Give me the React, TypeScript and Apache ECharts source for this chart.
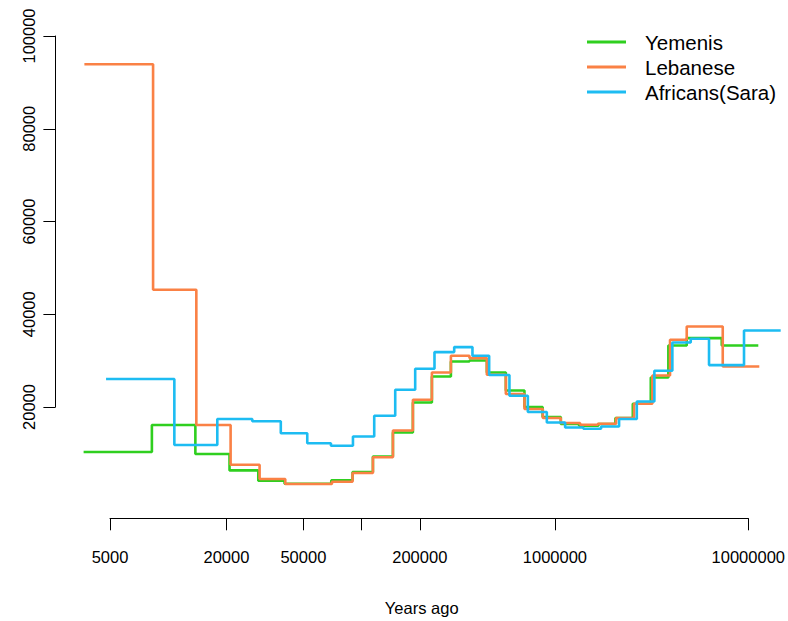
import React, { useEffect, useRef } from "react";
import * as echarts from "echarts";

// Step points (years ago, effective population size)
const yemenisYears = [3640, 8210, 13780, 20700, 29160, 39890, 69550, 89640, 114260, 145000, 183940, 230680, 289270, 360900, 444000, 556700, 694800, 862800, 1071500, 1332000, 1676000, 2053000, 2526000, 3129000, 3858000, 4802000, 7287000, 11265000];
const yemenisNe = [10232, 16054, 9822, 6264, 4043, 3396, 4108, 5919, 9283, 14458, 20927, 26534, 29768, 29984, 27396, 23515, 19935, 17779, 16270, 15903, 16270, 17563, 20647, 26318, 33218, 34814, 33218, 33218];

const lebaneseYears = [3674, 8327, 13940, 20970, 29620, 40220, 70130, 89640, 114260, 145000, 183940, 230680, 289270, 360900, 444000, 556700, 694800, 864900, 1071500, 1348000, 1664000, 2070000, 2564000, 3189000, 3936000, 4802000, 7375000, 11400000];
const lebaneseNe = [93898, 45229, 16054, 7493, 4410, 3332, 3827, 5704, 9111, 14890, 21509, 27396, 30997, 30501, 26900, 22739, 19504, 17563, 16485, 16119, 16334, 17563, 20647, 26749, 34447, 37316, 28690, 28690];

const saraYears = [4756, 10728, 17895, 27150, 38130, 52260, 69290, 90070, 116040, 149030, 189050, 237910, 300900, 374000, 456300, 581000, 723500, 907000, 1128000, 1402000, 1731000, 2145000, 2649000, 3266000, 4046000, 5037000, 6263000, 9502000, 14710000];
const saraNe = [25973, 11741, 17370, 16873, 14286, 12129, 11590, 13596, 18059, 23666, 28194, 31795, 32873, 30997, 26836, 22372, 18857, 16615, 15536, 15256, 15752, 17348, 21143, 27763, 33865, 34663, 28992, 36453, 36453];

const seriesNames = ["Yemenis", "Lebanese", "Africans(Sara)"];
const seriesColors = ["#2fcf1f", "#fa8145", "#1dbcf2"];

const xTickYears = [5000, 20000, 50000, 100000, 200000, 1000000, 10000000];
const xLabelYears = [5000, 20000, 50000, 200000, 1000000, 10000000];
const yTicks = [20000, 40000, 60000, 80000, 100000];

const FONT = "'Liberation Sans', Arial, Helvetica, sans-serif";

export default function App() {
  const ref = useRef<HTMLDivElement>(null);
  useEffect(() => {
    const chart = echarts.init(ref.current!, undefined, { renderer: "svg" });
    const pair = (xs: number[], ys: number[]) => xs.map((x, i) => [x, ys[i]]);
    const axisLineStyle = { color: "#000", width: 1 };
    const mk = (i: number, xs: number[], ys: number[]) => ({
      type: "line",
      name: seriesNames[i],
      xAxisIndex: 0,
      yAxisIndex: 0,
      data: pair(xs, ys),
      step: "end",
      symbol: "none",
      showSymbol: false,
      clip: false,
      lineStyle: { color: seriesColors[i], width: 2.6 },
      itemStyle: { color: seriesColors[i] },
      z: 2 + i,
    });
    chart.setOption({
      animation: false,
      backgroundColor: "#ffffff",
      color: seriesColors,
      textStyle: { fontFamily: FONT },
      grid: [
        { left: 55.4, right: 0, top: 17.4, bottom: 102.7 },
        { left: 110, right: 39.7, top: 480, bottom: 102.7 },
        { left: 55.4, right: 500, top: 36, bottom: 214 },
      ],
      xAxis: [
        {
          type: "log",
          gridIndex: 0,
          logBase: 10,
          min: 2601,
          max: 16046000,
          axisLine: { show: false },
          axisTick: { show: false },
          axisLabel: { show: false },
          splitLine: { show: false },
          minorTick: { show: false },
          name: "Years ago",
          nameLocation: "middle",
          nameGap: 81,
          nameTextStyle: { fontSize: 16.5, color: "#000", fontFamily: FONT },
        },
        {
          type: "value",
          gridIndex: 1,
          min: Math.log10(5000),
          max: 7,
          axisLine: { show: true, lineStyle: axisLineStyle },
          axisTick: {
            show: true,
            length: 12,
            customValues: xTickYears.map((v) => Math.log10(v)),
            lineStyle: axisLineStyle,
          },
          axisLabel: {
            show: true,
            customValues: xLabelYears.map((v) => Math.log10(v)),
            formatter: (v: number) => String(Math.round(Math.pow(10, v))),
            margin: 30,
            fontSize: 16.5,
            color: "#000",
            fontFamily: FONT,
          },
          splitLine: { show: false },
        },
        { type: "value", gridIndex: 2, show: false },
      ],
      yAxis: [
        { type: "value", gridIndex: 0, min: -4000, max: 104000, show: false, splitLine: { show: false } },
        { type: "value", gridIndex: 1, show: false, splitLine: { show: false } },
        {
          type: "value",
          gridIndex: 2,
          min: yTicks[0],
          max: yTicks[yTicks.length - 1],
          interval: 20000,
          axisLine: { show: true, lineStyle: axisLineStyle },
          axisTick: { show: true, length: 12, lineStyle: axisLineStyle },
          axisLabel: {
            rotate: 90,
            margin: 18,
            fontSize: 16.5,
            color: "#000",
            fontFamily: FONT,
            formatter: (v: number) => String(v),
          },
          splitLine: { show: false },
        },
      ],
      legend: {
        orient: "vertical",
        left: 587,
        top: 31.5,
        padding: 0,
        itemWidth: 39,
        itemHeight: 3,
        itemGap: 4,
        icon: "rect",
        data: seriesNames,
        textStyle: {
          fontSize: 20.5,
          lineHeight: 20.5,
          color: "#000",
          fontFamily: FONT,
          padding: [0, 0, 0, 14],
        },
      },
      series: [
        mk(0, yemenisYears, yemenisNe),
        mk(1, lebaneseYears, lebaneseNe),
        mk(2, saraYears, saraNe),
      ],
    });
    return () => chart.dispose();
  }, []);
  return (
    <div
      ref={ref}
      style={{ position: "absolute", left: 0, top: 0, width: 788, height: 621 }}
    />
  );
}
